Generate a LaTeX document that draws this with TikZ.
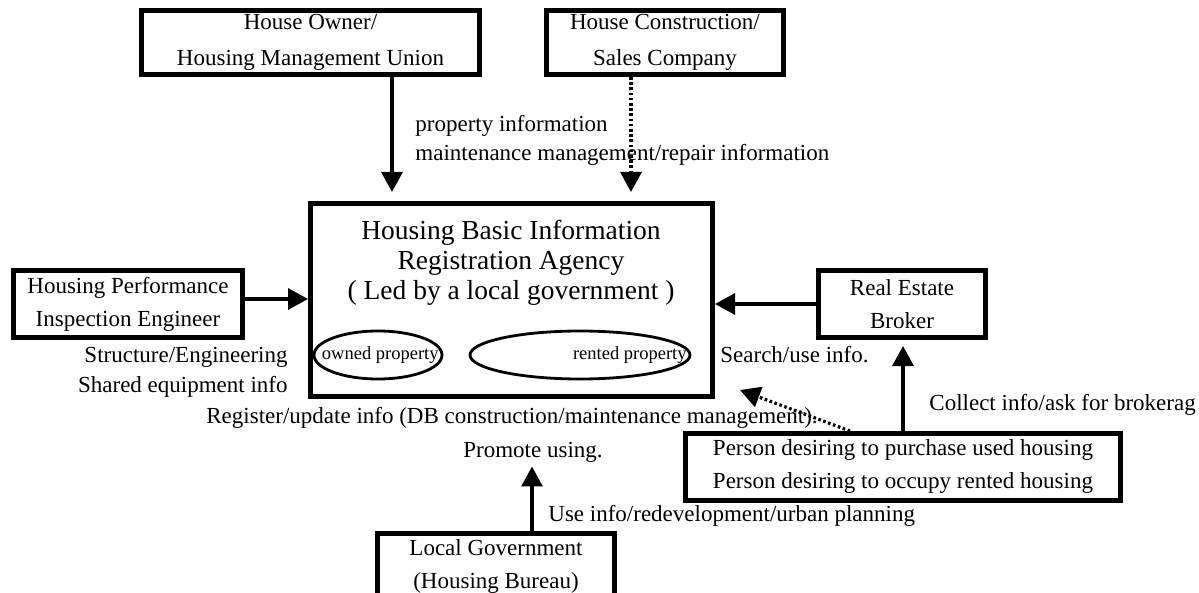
\documentclass[tikz,border=0pt]{standalone}
\usepackage{fontspec}
\setmainfont{Liberation Serif}
\usetikzlibrary{arrows.meta, positioning, calc, shapes.geometric}

\begin{document}
\begin{tikzpicture}[x=0.5pt, y=-0.5pt,
    box/.style={draw, line width=2.5pt, inner sep=0pt, align=center,
      font=\fontsize{11.5}{16.5}\selectfont},
    flow/.style={line width=1.6pt, -{Triangle[length=10pt,width=10.5pt]}},
    dotflow/.style={flow, dash pattern=on 1.3pt off 1.3pt},
    lbl/.style={inner sep=0pt, font=\fontsize{11.5}{15}\selectfont},
    store/.style={draw, ellipse, line width=1.4pt, inner sep=0pt,
      minimum height=24pt},
    storetxt/.style={inner sep=0pt, font=\fontsize{9.25}{11}\selectfont}]
  \useasboundingbox (0,0) rectangle (1199,593);

  % suppliers of information
  \node[box, minimum width=169pt, minimum height=32pt,
    font=\fontsize{11.5}{18}\selectfont] (owner) at (310.5,42.5)
    {House Owner/\\Housing Management Union};
  \node[box, minimum width=118.5pt, minimum height=32pt,
    font=\fontsize{11.5}{18}\selectfont] (builder) at (665,42.5)
    {House Construction/\\Sales Company};

  % registration agency with its two data stores
  \node[box, minimum width=201pt, minimum height=96.5pt] (agency) at (511.5,300) {};
  \node[lbl, align=center, font=\fontsize{13.75}{15}\selectfont] (title) at (511,263)
    {Housing Basic Information\\Registration Agency\\( Led by a local government )};
  \node[store, minimum width=64pt] (owned) at (378,355) {};
  \node[storetxt, anchor=east] (ownedtxt) at (439,355) {owned property};
  \node[store, minimum width=110pt] (rented) at (580,355) {};
  \node[storetxt, anchor=east] (rentedtxt) at (687,355) {rented property};

  \node[box, minimum width=114.5pt, minimum height=33.5pt] (hp) at (128,304)
    {Housing Performance\\Inspection Engineer};
  \node[box, minimum width=83.5pt, minimum height=33.5pt] (broker) at (902,304)
    {Real Estate\\Broker};
  \node[box, minimum width=217.5pt, minimum height=33.5pt] (persons) at (903,467)
    {Person desiring to purchase used housing\\Person desiring to occupy rented housing};
  \node[box, minimum width=118.5pt, minimum height=32.5pt] (gov) at (496,566)
    {Local Government\\(Housing Bureau)};

  % labels
  \node[lbl, anchor=west, align=left, font=\fontsize{11.5}{14.5}\selectfont] (ownerinfo) at (415,140)
    {property information\\maintenance management/repair information};
  \node[lbl, anchor=east, align=right] (hpinfo) at (288,372)
    {Structure/Engineering\\Shared equipment info};
  \node[lbl, anchor=west] (search) at (720,355) {Search/use info.};
  \node[lbl, anchor=west] (collect) at (929,405) {Collect info/ask for brokerag};
  \node[lbl, anchor=east] (register) at (818,418)
    {Register/update info (DB construction/maintenance management).};
  \node[lbl] (promote) at (533,452) {Promote using.};
  \node[lbl, anchor=west] (useinfo) at (548,516) {Use info/redevelopment/urban planning};

  \coordinate (regtip) at (740,390);

  % connectors
  \draw[flow, shorten >=4.5pt] ([xshift=40.75pt]owner.south) -- ([xshift=40.75pt]owner.south |- agency.north);
  \draw[dotflow, shorten >=4.5pt] ([xshift=-17pt]builder.south) -- ([xshift=-17pt]builder.south |- agency.north);
  \draw[flow] ([yshift=2.5pt]hp.east) -- ([yshift=2.5pt]hp.east -| agency.west);
  \draw[flow] (broker.west) -- (broker.west -| agency.east);
  \draw[flow, shorten >=3pt] (persons.north) -- (persons.north |- broker.south);
  \draw[dotflow] ([xshift=-26.5pt]persons.north) -- (regtip);
  \draw[flow, shorten >=2pt] ([xshift=18pt]gov.north) -- ([xshift=18pt]gov.north |- promote.south);
\end{tikzpicture}
\end{document}
